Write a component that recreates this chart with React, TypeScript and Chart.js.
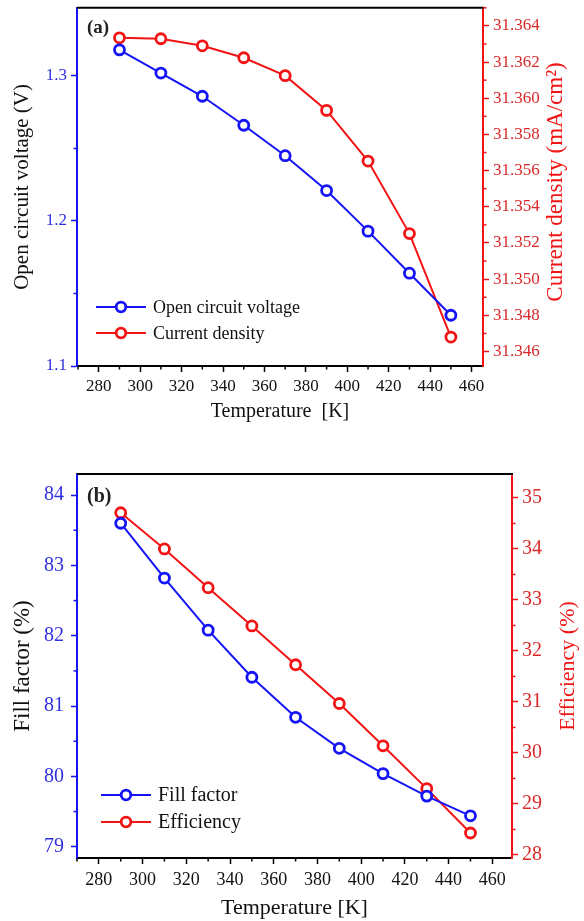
import { useEffect, useRef } from "react";
import { Chart, registerables } from "chart.js";

Chart.register(...registerables);

// ---------------- data ----------------
const temperatures = [290, 310, 330, 350, 370, 390, 410, 430, 450];
const openCircuitVoltage = [1.318, 1.302, 1.286, 1.266, 1.245, 1.221, 1.193, 1.164, 1.135];
const currentDensity = [31.36334, 31.36329, 31.3629, 31.36224, 31.36125, 31.35933, 31.35653, 31.35252, 31.3468];
const fillFactor = [83.6, 82.82, 82.08, 81.41, 80.84, 80.4, 80.04, 79.72, 79.44];
const efficiency = [34.71, 34.0, 33.24, 32.49, 31.73, 30.97, 30.14, 29.3, 28.43];

const temperatureTicks = [280, 300, 320, 340, 360, 380, 400, 420, 440, 460];
const voltageTicks = [1.1, 1.2, 1.3];
const currentTicks = [31.346, 31.348, 31.35, 31.352, 31.354, 31.356, 31.358, 31.36, 31.362, 31.364];
const fillFactorTicks = [79, 80, 81, 82, 83, 84];
const efficiencyTicks = [28, 29, 30, 31, 32, 33, 34, 35];

// ---------------- styles ----------------
const FONT = '"Liberation Serif", "Times New Roman", serif';
const BLUE = "#1414f5";
const RED = "#f21414";
const BLUE_TEXT = "#3030e0";
const RED_TEXT = "#d92a2a";

type Panel = {
  tag: string;
  leftData: number[];
  rightData: number[];
  leftName: string;
  rightName: string;
  leftTitle: string;
  rightTitle: string;
  xTitle: string;
  leftTicks: number[];
  rightTicks: number[];
  leftDec: number;
  rightDec: number;
  xRange: [number, number];
  leftRange: [number, number];
  rightRange: [number, number];
  height: number;
  top: number;
  leftW: number;
  rightW: number;
  bottomH: number;
  tickFont: number;
  yTickFont: number;
  titleFont: number;
  leftTitleFont: number;
  rightTitleFont: number;
  legendFont: number;
  tagFont: number;
  padL: number;
  padB: number;
  rightTitleX: number;
  rightTitleY: number;
  yTickPadL: number;
  yTickPadR: number;
  xTickPad: number;
  legendX: number;
  legendY1: number;
  legendY2: number;
  tagX: number;
  tagY: number;
};

const decorPlugin = {
  id: "decor",
  afterDraw(chart: any, _args: any, opts: any) {
    const { ctx, chartArea } = chart;
    const { left, right, top, bottom } = chartArea;
    ctx.save();
    // top border
    ctx.strokeStyle = "#000";
    ctx.lineWidth = 2;
    ctx.beginPath();
    ctx.moveTo(left, top);
    ctx.lineTo(right + 1, top);
    ctx.stroke();

    // minor ticks
    const minorLen = 3.5;
    Object.values(chart.scales).forEach((scale: any) => {
      const vals = scale.ticks.map((t: any) => t.value);
      if (vals.length < 2) return;
      const step = vals[1] - vals[0];
      const color = scale.options.border.color;
      ctx.strokeStyle = color;
      ctx.lineWidth = 1.5;
      for (let v = vals[0] - step / 2; v <= scale.max + 1e-9; v += step) {
        if (v < scale.min - 1e-9) continue;
        ctx.beginPath();
        if (scale.axis === "x") {
          const px = scale.getPixelForValue(v);
          ctx.moveTo(px, bottom);
          ctx.lineTo(px, bottom + minorLen);
        } else if (scale.position === "left") {
          const py = scale.getPixelForValue(v);
          ctx.moveTo(left, py);
          ctx.lineTo(left - minorLen, py);
        } else {
          const py = scale.getPixelForValue(v);
          ctx.moveTo(right, py);
          ctx.lineTo(right + minorLen, py);
        }
        ctx.stroke();
      }
    });

    // right axis title (reads bottom-to-top, like the left one)
    ctx.save();
    ctx.translate(opts.rightTitleX, opts.rightTitleY);
    ctx.rotate(-Math.PI / 2);
    ctx.fillStyle = RED;
    ctx.font = `${opts.rightTitleFont}px ${FONT}`;
    ctx.textAlign = "center";
    ctx.textBaseline = "middle";
    ctx.fillText(opts.rightTitle, 0, 0);
    ctx.restore();

    // panel tag
    ctx.fillStyle = "#222";
    ctx.font = `bold ${opts.tagFont}px ${FONT}`;
    ctx.textBaseline = "middle";
    ctx.textAlign = "left";
    ctx.fillText(opts.tag, left + opts.tagX, top + opts.tagY);

    // legend
    const items = [
      { name: opts.leftName, color: BLUE, y: bottom - opts.legendY1 },
      { name: opts.rightName, color: RED, y: bottom - opts.legendY2 },
    ];
    items.forEach((it) => {
      const x0 = left + opts.legendX;
      ctx.strokeStyle = it.color;
      ctx.lineWidth = 2;
      ctx.beginPath();
      ctx.moveTo(x0, it.y);
      ctx.lineTo(x0 + 50, it.y);
      ctx.stroke();
      ctx.beginPath();
      ctx.fillStyle = "#fff";
      ctx.lineWidth = 2.8;
      ctx.arc(x0 + 25, it.y, 4.8, 0, Math.PI * 2);
      ctx.fill();
      ctx.stroke();
      ctx.fillStyle = "#111";
      ctx.font = `${opts.legendFont}px ${FONT}`;
      ctx.textBaseline = "middle";
      ctx.fillText(it.name, x0 + 57, it.y + 1);
    });
    ctx.restore();
  },
};

function buildConfig(p: Panel): any {
  const mk = (data: number[]) => temperatures.map((t, i) => ({ x: t, y: data[i] }));
  const ds = (label: string, data: number[], color: string, axis: string) => ({
    label,
    data: mk(data),
    yAxisID: axis,
    borderColor: color,
    backgroundColor: color,
    borderWidth: 2,
    pointRadius: 5,
    pointBorderWidth: 2.8,
    pointBackgroundColor: "#ffffff",
    pointBorderColor: color,
    clip: false,
    tension: 0,
  });
  const yScale = (
    pos: "left" | "right",
    ticks: number[],
    range: [number, number],
    dec: number,
    color: string,
    textColor: string,
    title: string,
    tickPad: number,
    width: number
  ) => ({
    type: "linear",
    position: pos,
    min: range[0],
    max: range[1],
    afterBuildTicks: (s: any) => {
      s.ticks = ticks.map((value) => ({ value }));
    },
    afterFit: (s: any) => {
      s.width = width;
      s.paddingTop = 0;
      s.paddingBottom = 0;
    },
    border: { display: true, color, width: 2 },
    grid: {
      drawOnChartArea: false,
      drawTicks: true,
      tickLength: 6,
      tickWidth: 1.5,
      tickColor: color,
      color,
    },
    ticks: {
      color: textColor,
      font: { family: FONT, size: p.yTickFont },
      padding: tickPad,
      callback: (v: any) => Number(v).toFixed(dec),
    },
    title: {
      display: pos === "left",
      text: title,
      color: "#111",
      font: { family: FONT, size: p.leftTitleFont },
      padding: { top: p.padL, bottom: 0 },
    },
  });

  return {
    type: "line",
    data: {
      datasets: [
        ds(p.leftName, p.leftData, BLUE, "yL"),
        ds(p.rightName, p.rightData, RED, "yR"),
      ],
    },
    options: {
      responsive: false,
      animation: false,
      devicePixelRatio: 1,
      layout: { padding: { top: p.top, left: 0, right: 0, bottom: 0 } },
      plugins: {
        legend: { display: false },
        tooltip: { enabled: false },
        decor: {
          tag: p.tag,
          tagFont: p.tagFont,
          tagX: p.tagX,
          tagY: p.tagY,
          leftName: p.leftName,
          rightName: p.rightName,
          legendFont: p.legendFont,
          legendX: p.legendX,
          legendY1: p.legendY1,
          legendY2: p.legendY2,
          rightTitle: p.rightTitle,
          rightTitleFont: p.rightTitleFont,
          rightTitleX: p.rightTitleX,
          rightTitleY: p.rightTitleY,
        },
      },
      scales: {
        x: {
          type: "linear",
          position: "bottom",
          min: p.xRange[0],
          max: p.xRange[1],
          afterBuildTicks: (s: any) => {
            s.ticks = temperatureTicks.map((value) => ({ value }));
          },
          afterFit: (s: any) => {
            s.height = p.bottomH;
            s.paddingLeft = 0;
            s.paddingRight = 0;
          },
          border: { display: true, color: "#000", width: 2 },
          grid: {
            drawOnChartArea: false,
            drawTicks: true,
            tickLength: 6,
            tickWidth: 1.5,
            tickColor: "#000",
            color: "#000",
          },
          ticks: {
            color: "#111",
            font: { family: FONT, size: p.tickFont },
            padding: p.xTickPad,
            maxRotation: 0,
            autoSkip: false,
            callback: (v: any) => String(v),
          },
          title: {
            display: true,
            text: p.xTitle,
            color: "#111",
            font: { family: FONT, size: p.titleFont },
            padding: { top: 0, bottom: p.padB },
          },
        },
        yL: yScale("left", p.leftTicks, p.leftRange, p.leftDec, BLUE, BLUE_TEXT, p.leftTitle, p.yTickPadL, p.leftW),
        yR: yScale("right", p.rightTicks, p.rightRange, p.rightDec, RED, RED_TEXT, p.rightTitle, p.yTickPadR, p.rightW),
      },
    },
    plugins: [decorPlugin],
  };
}

const panelA: Panel = {
  tag: "(a)",
  leftData: openCircuitVoltage,
  rightData: currentDensity,
  leftName: "Open circuit voltage",
  rightName: "Current density",
  leftTitle: "Open circuit voltage (V)",
  rightTitle: "Current density (mA/cm\u00B2)",
  xTitle: "Temperature  [K]",
  leftTicks: voltageTicks,
  rightTicks: currentTicks,
  leftDec: 1,
  rightDec: 3,
  xRange: [269.5, 465.5],
  leftRange: [1.1, 1.347],
  rightRange: [31.3452, 31.365],
  height: 440,
  top: 5,
  leftW: 77,
  rightW: 101,
  bottomH: 74,
  tickFont: 17,
  yTickFont: 17,
  titleFont: 20,
  leftTitleFont: 21,
  rightTitleFont: 23,
  legendFont: 18,
  tagFont: 19,
  padL: 10,
  padB: 16,
  rightTitleX: 556,
  rightTitleY: 182,
  yTickPadL: 4,
  yTickPadR: 4,
  xTickPad: 4,
  legendX: 19,
  legendY1: 59,
  legendY2: 33,
  tagX: 10,
  tagY: 20,
};

const panelB: Panel = {
  tag: "(b)",
  leftData: fillFactor,
  rightData: efficiency,
  leftName: "Fill factor",
  rightName: "Efficiency",
  leftTitle: "Fill factor (%)",
  rightTitle: "Efficiency (%)",
  xTitle: "Temperature [K]",
  leftTicks: fillFactorTicks,
  rightTicks: efficiencyTicks,
  leftDec: 0,
  rightDec: 0,
  xRange: [270, 469],
  leftRange: [78.84, 84.3],
  rightRange: [27.94, 35.47],
  height: 481,
  top: 34,
  leftW: 77,
  rightW: 72,
  bottomH: 63,
  tickFont: 18,
  yTickFont: 20,
  titleFont: 22,
  leftTitleFont: 23,
  rightTitleFont: 22,
  legendFont: 20,
  tagFont: 20,
  padL: 9,
  padB: 0,
  rightTitleX: 568,
  rightTitleY: 226,
  yTickPadL: 7,
  yTickPadR: 4,
  xTickPad: 5,
  legendX: 24,
  legendY1: 63,
  legendY2: 36,
  tagX: 10,
  tagY: 23,
};

function ChartPanel({ panel, top }: { panel: Panel; top: number }) {
  const ref = useRef<HTMLCanvasElement | null>(null);
  useEffect(() => {
    if (!ref.current) return;
    const chart = new Chart(ref.current, buildConfig(panel));
    return () => chart.destroy();
  }, [panel]);
  return (
    <div style={{ position: "absolute", left: 0, top, width: 584, height: panel.height }}>
      <canvas ref={ref} width={584} height={panel.height} style={{ display: "block" }} />
    </div>
  );
}

export default function App() {
  return (
    <div
      style={{
        position: "absolute",
        left: 0,
        top: 0,
        width: 584,
        height: 921,
        background: "#ffffff",
        overflow: "hidden",
      }}
    >
      <ChartPanel panel={panelA} top={0} />
      <ChartPanel panel={panelB} top={440} />
    </div>
  );
}
